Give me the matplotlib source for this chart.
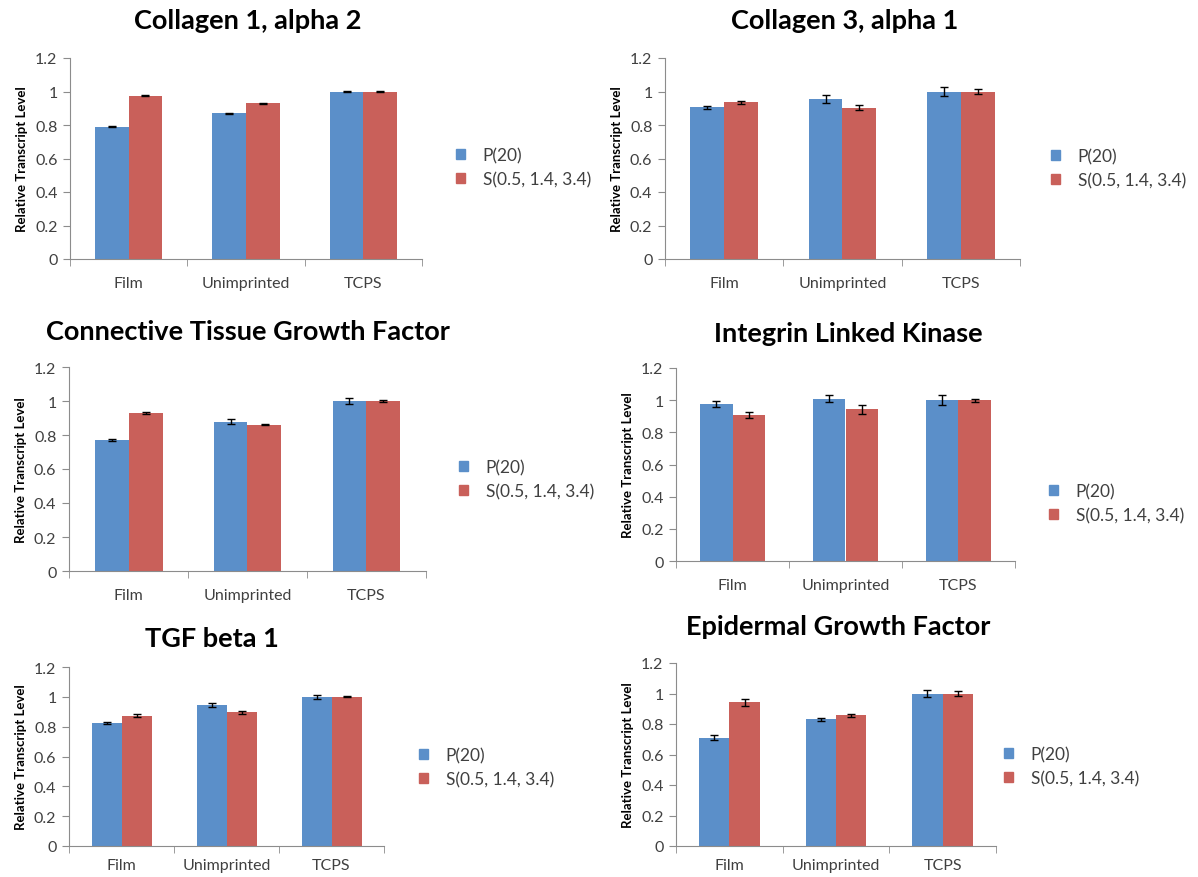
import matplotlib
matplotlib.use("Agg")
import matplotlib.pyplot as plt
from matplotlib.patches import Patch
import numpy as np

plt.rcParams["font.family"] = ["Lato", "DejaVu Sans"]

W, H = 1198, 878

CATEGORIES = ["Film", "Unimprinted", "TCPS"]
SERIES = ["P(20)", "S(0.5, 1.4, 3.4)"]
TITLES = ["Collagen 1, alpha 2", "Collagen 3, alpha 1",
          "Connective Tissue Growth Factor", "Integrin Linked Kinase",
          "TGF beta 1", "Epidermal Growth Factor"]

# mean relative transcript level per gene (Film, Unimprinted, TCPS)
P20_MEAN = [[0.79, 0.87, 1.0],
            [0.905, 0.955, 1.0],
            [0.77, 0.877, 1.0],
            [0.977, 1.01, 1.0],
            [0.823, 0.944, 1.0],
            [0.711, 0.832, 1.0]]
P20_ERR = [[0.003, 0.003, 0.003],
           [0.01, 0.024, 0.026],
           [0.007, 0.015, 0.017],
           [0.02, 0.02, 0.03],
           [0.008, 0.012, 0.015],
           [0.015, 0.01, 0.02]]
S_MEAN = [[0.975, 0.93, 1.0],
          [0.935, 0.902, 1.0],
          [0.928, 0.861, 1.0],
          [0.909, 0.942, 1.0],
          [0.874, 0.895, 1.0],
          [0.941, 0.858, 1.0]]
S_ERR = [[0.003, 0.003, 0.003],
         [0.01, 0.015, 0.014],
         [0.007, 0.003, 0.008],
         [0.02, 0.025, 0.01],
         [0.01, 0.012, 0.004],
         [0.02, 0.01, 0.015]]

BLUE = "#5B8FC9"
RED = "#C9605A"
AXIS_GREY = "#8c8c8c"
TEXT_GREY = "#404040"

# axes boxes in pixels: left, right, y of 0, y of 1.2
BOXES = [(70, 422, 260, 59), (665, 1020, 260, 59),
         (69, 426, 572, 368), (676, 1015, 562, 369),
         (69, 384, 847, 668), (676, 996, 847, 664)]
# title centre (x, y) and legend anchor (x, y) in pixels
TITLE_POS = [(248, 21), (845, 21), (248, 332), (848, 334), (212, 639), (838, 627)]
LEGEND_POS = [(440, 168), (1035, 169), (443, 480), (1033, 504), (403, 768), (988, 767)]
LABEL_PAD = [12, 12, 12, 12, 9, 9]

fig = plt.figure(figsize=(W / 100, H / 100), dpi=100)

bw = 1 / 3.5
x = np.arange(len(CATEGORIES))
err_style = dict(ecolor="black", elinewidth=1, capsize=3, capthick=1)

for i in range(6):
    x0, x1, yb, yt = BOXES[i]
    ax = fig.add_axes([x0 / W, 1 - yb / H, (x1 - x0) / W, (yb - yt) / H])

    ax.bar(x - bw / 2, P20_MEAN[i], bw, color=BLUE, yerr=P20_ERR[i], error_kw=err_style)
    ax.bar(x + bw / 2, S_MEAN[i], bw, color=RED, yerr=S_ERR[i], error_kw=err_style)

    ax.set_xlim(-0.5, 2.5)
    ax.set_ylim(0, 1.2)
    ax.set_yticks(np.arange(0, 1.21, 0.2))
    ax.set_yticklabels(["0", "0.2", "0.4", "0.6", "0.8", "1", "1.2"])
    ax.set_xticks(x)
    ax.set_xticklabels(CATEGORIES)
    # category boundary ticks
    ax.set_xticks([-0.5, 0.5, 1.5, 2.5], minor=True)
    ax.tick_params(axis="x", which="major", length=0, pad=LABEL_PAD[i],
                   labelsize=11.5, labelcolor=TEXT_GREY)
    ax.tick_params(axis="x", which="minor", length=5, color=AXIS_GREY)
    ax.tick_params(axis="y", length=5, color=AXIS_GREY, labelsize=11.5,
                   labelcolor=TEXT_GREY, pad=4)

    for side in ("top", "right"):
        ax.spines[side].set_visible(False)
    for side in ("left", "bottom"):
        ax.spines[side].set_color(AXIS_GREY)

    ax.set_ylabel("Relative Transcript Level", fontsize=9.5, fontweight="bold",
                  labelpad=5)

    tx, ty = TITLE_POS[i]
    fig.text(tx / W, 1 - ty / H, TITLES[i], fontsize=19.5, fontweight="bold",
             ha="center", va="center")

    handles = [Patch(color=BLUE), Patch(color=RED)]
    lx, ly = LEGEND_POS[i]
    ax.legend(handles, SERIES, loc="center left",
              bbox_to_anchor=(lx / W, 1 - ly / H), bbox_transform=fig.transFigure,
              frameon=False, fontsize=12.5, handlelength=0.55, handleheight=0.55,
              handletextpad=1.0, labelspacing=0.45, labelcolor=TEXT_GREY)

fig.savefig("out.png", dpi=100)
